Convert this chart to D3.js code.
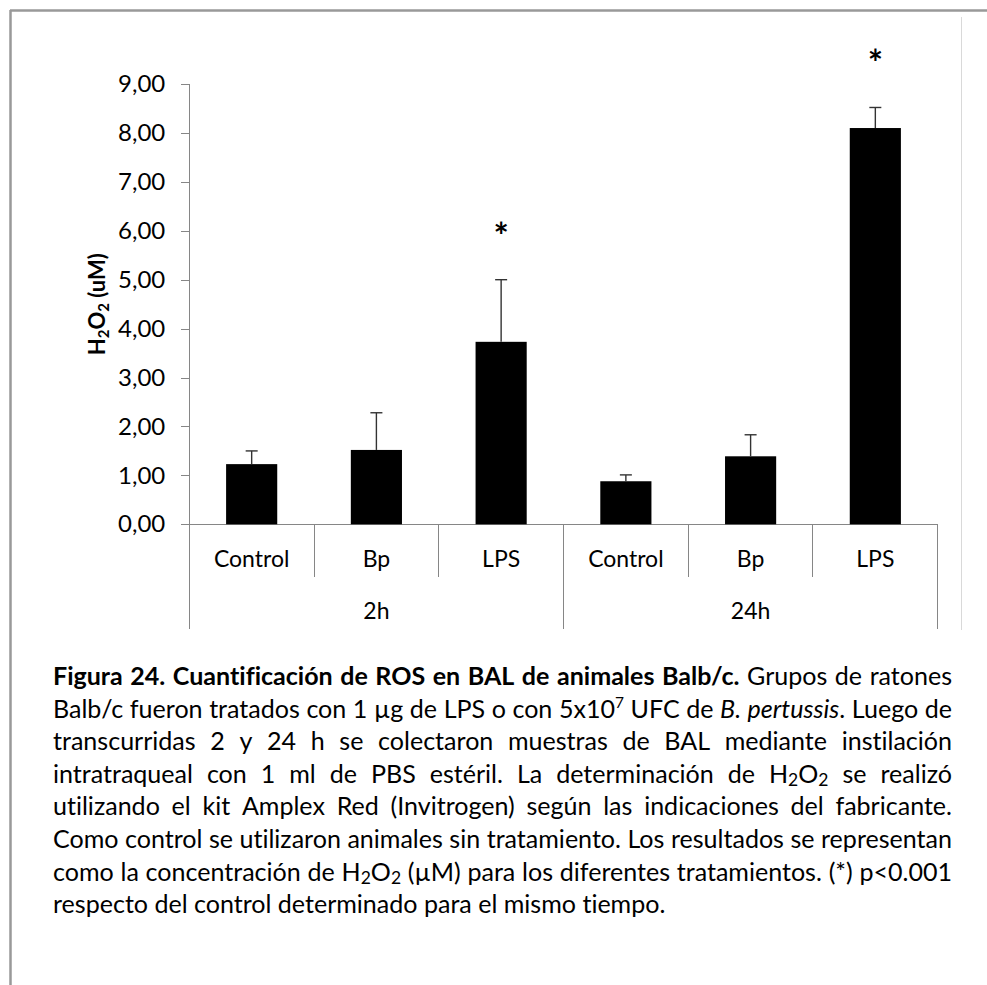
<!DOCTYPE html>
<html>
<head>
<meta charset="utf-8">
<script src="https://cdn.jsdelivr.net/npm/d3@7"></script>
<style>
  html, body { margin: 0; padding: 0; background: #fff; }
  svg { display: block; }
  text { font-variant-ligatures: none; font-feature-settings: "liga" 0, "clig" 0; }
</style>
</head>
<body>
<svg id="fig" width="987" height="985"></svg>
<script>
// ---- data ----
const groups = ["2h", "24h"];
const treatments = ["Control", "Bp", "LPS"];
const mean2h = [1.23, 1.52, 3.73];
const err2h = [0.27, 0.76, 1.27];
const mean24h = [0.88, 1.39, 8.10];
const err24h = [0.13, 0.44, 0.42];
const signif2h = [false, false, true];
const signif24h = [false, false, true];
const yTicks = [0, 1, 2, 3, 4, 5, 6, 7, 8, 9];
const yTitleRuns = [{ t: "H" }, { t: "2", sub: true }, { t: "O" }, { t: "2", sub: true }, { t: " (uM)" }];

// caption markup: **bold**, _italic_, ^superscript^, ~subscript~
const captionLines = [
  "**Figura 24. Cuantificación de ROS en BAL de animales Balb/c.** Grupos de ratones",
  "Balb/c fueron tratados con 1 µg de LPS o con 5x10^7^ UFC de _B. pertussis_. Luego de",
  "transcurridas 2 y 24 h se colectaron muestras de BAL mediante instilación",
  "intratraqueal con 1 ml de PBS estéril. La determinación de H~2~O~2~ se realizó",
  "utilizando el kit Amplex Red (Invitrogen) según las indicaciones del fabricante.",
  "Como control se utilizaron animales sin tratamiento. Los resultados se representan",
  "como la concentración de H~2~O~2~ (µM) para los diferentes tratamientos. (*) p<0.001",
  "respecto del control determinado para el mismo tiempo."
];

// ---- layout ----
const FONT = "Lato, 'Open Sans', sans-serif";
const svg = d3.select("#fig");

const plot = { left: 189.3, right: 937.7, top: 84, bottom: 524.3 };
const catFloor = 576.7, groupFloor = 629;

// page frame
svg.append("line").attr("x1", 10).attr("x2", 987).attr("y1", 10.5).attr("y2", 10.5)
  .attr("stroke", "#999").attr("stroke-width", 2.5);
svg.append("line").attr("x1", 10.5).attr("x2", 10.5).attr("y1", 10).attr("y2", 985)
  .attr("stroke", "#999").attr("stroke-width", 2.5);
// chart area edge
svg.append("line").attr("x1", 961.5).attr("x2", 961.5).attr("y1", 17).attr("y2", 630)
  .attr("stroke", "#d9d9d9").attr("stroke-width", 1);

// ---- scales ----
const rows = [];
groups.forEach((g, gi) => {
  const m = gi ? mean24h : mean2h, e = gi ? err24h : err2h, s = gi ? signif24h : signif2h;
  treatments.forEach((t, ti) => rows.push({ key: g + "|" + t, group: g, treat: t, mean: m[ti], err: e[ti], sig: s[ti] }));
});

const y = d3.scaleLinear().domain([0, 9]).range([plot.bottom, plot.top]);
const x = d3.scaleBand().domain(rows.map(d => d.key)).range([plot.left, plot.right]).padding(0);
const bw = x.bandwidth();
const barW = bw * 0.41;

// ---- y axis ----
const fmt = d3.formatLocale({ decimal: ",", thousands: ".", grouping: [3], currency: ["", ""] }).format(".2f");
const gy = svg.append("g")
  .attr("transform", `translate(${plot.left},0)`)
  .call(d3.axisLeft(y).tickValues(yTicks).tickFormat(fmt).tickSize(8).tickPadding(16));
gy.select(".domain").remove();
gy.attr("font-family", FONT).attr("font-size", 24);
gy.selectAll(".tick line").attr("stroke", "#868686").attr("shape-rendering", "crispEdges");
gy.selectAll(".tick text").attr("fill", "#000");

const axisColor = "#868686";
// vertical axis line, continuing down through the category table
svg.append("line").attr("x1", plot.left).attr("x2", plot.left)
  .attr("y1", y(9)).attr("y2", groupFloor).attr("stroke", axisColor).attr("shape-rendering", "crispEdges");
// baseline
svg.append("line").attr("x1", plot.left - 8).attr("x2", plot.right)
  .attr("y1", y(0)).attr("y2", y(0)).attr("stroke", axisColor).attr("shape-rendering", "crispEdges");

// category dividers
rows.forEach((d, i) => {
  if (i === 0) return;
  const xb = x(d.key);
  const isGroupEdge = rows[i - 1].group !== d.group;
  svg.append("line").attr("x1", xb).attr("x2", xb).attr("y1", y(0))
    .attr("y2", isGroupEdge ? groupFloor : catFloor)
    .attr("stroke", axisColor).attr("shape-rendering", "crispEdges");
});
svg.append("line").attr("x1", plot.right).attr("x2", plot.right).attr("y1", y(0)).attr("y2", groupFloor)
  .attr("stroke", axisColor).attr("shape-rendering", "crispEdges");

// category labels
svg.append("g").selectAll("text").data(rows).join("text")
  .attr("x", d => x(d.key) + bw / 2).attr("y", 567)
  .attr("text-anchor", "middle").attr("font-family", FONT).attr("font-size", 23)
  .text(d => d.treat);

// group labels
svg.append("g").selectAll("text").data(groups).join("text")
  .attr("x", g => {
    const ks = rows.filter(r => r.group === g).map(r => r.key);
    return (x(ks[0]) + x(ks[ks.length - 1]) + bw) / 2;
  })
  .attr("y", 619).attr("text-anchor", "middle").attr("font-family", FONT).attr("font-size", 23)
  .text(g => g);

// y title
const yt = svg.append("text")
  .attr("transform", `translate(105,${(y(0) + y(9)) / 2}) rotate(-90)`)
  .attr("text-anchor", "middle").attr("font-family", FONT).attr("font-size", 22).attr("font-weight", "bold");
yTitleRuns.forEach(r => {
  const ts = yt.append("tspan").text(r.t);
  if (r.sub) ts.attr("font-size", 15).attr("baseline-shift", -4);
});

// ---- bars ----
svg.append("g").selectAll("rect").data(rows).join("rect")
  .attr("x", d => x(d.key) + (bw - barW) / 2)
  .attr("width", barW)
  .attr("y", d => y(d.mean))
  .attr("height", d => y(0) - y(d.mean))
  .attr("fill", "#000");

// error bars (upper whisker only)
const eg = svg.append("g").attr("stroke", "#333").attr("stroke-width", 1.4);
rows.forEach(d => {
  const cx = x(d.key) + bw / 2;
  eg.append("line").attr("x1", cx).attr("x2", cx).attr("y1", y(d.mean)).attr("y2", y(d.mean + d.err));
  eg.append("line").attr("x1", cx - 6).attr("x2", cx + 6).attr("y1", y(d.mean + d.err)).attr("y2", y(d.mean + d.err));
});

// significance marks
svg.append("g").selectAll("text").data(rows.filter(d => d.sig)).join("text")
  .attr("x", d => x(d.key) + bw / 2)
  .attr("y", d => y(d.mean + d.err) - 47 + 16)
  .attr("text-anchor", "middle").attr("font-family", FONT).attr("font-size", 36).attr("font-weight", "bold")
  .text("*");

// ---- caption ----
function parseLine(s) {
  const words = [];
  let cur = [], run = null;
  const st = { b: false, i: false, sup: false, sub: false };
  for (let k = 0; k < s.length; k++) {
    const c = s[k];
    if (c === "*" && s[k + 1] === "*") { st.b = !st.b; k++; run = null; continue; }
    if (c === "_") { st.i = !st.i; run = null; continue; }
    if (c === "^") { st.sup = !st.sup; run = null; continue; }
    if (c === "~") { st.sub = !st.sub; run = null; continue; }
    if (c === " ") { if (cur.length) { words.push(cur); cur = []; } run = null; continue; }
    if (!run) { run = { t: "", b: st.b, i: st.i, sup: st.sup, sub: st.sub }; cur.push(run); }
    run.t += c;
  }
  if (cur.length) words.push(cur);
  return words;
}

const cap = { left: 53, right: 952, firstBaseline: 685, lineStep: 32.6 };

function drawWord(parent, runs, size) {
  const t = parent.append("text").attr("font-size", size);
  runs.forEach(r => {
    const ts = t.append("tspan").text(r.t);
    if (r.b) ts.attr("font-weight", "bold");
    if (r.i) ts.attr("font-style", "italic");
    if (r.sup) ts.attr("font-size", size * 0.62).attr("baseline-shift", size * 0.38);
    if (r.sub) ts.attr("font-size", size * 0.7).attr("baseline-shift", -size * 0.12);
  });
  return t;
}

const parsed = captionLines.map(parseLine);

// measure natural widths at a reference size, then grow the type until the
// fullest justified line fills the column with ordinary word spacing
const probe = svg.append("g").attr("font-family", FONT).attr("visibility", "hidden");
const refSize = 20;
const refSpace = probe.append("text").attr("font-size", refSize).text("a a").node().getComputedTextLength()
  - probe.append("text").attr("font-size", refSize).text("aa").node().getComputedTextLength();
let fit = Infinity;
parsed.forEach((words, li) => {
  if (li === parsed.length - 1) return;
  const w = d3.sum(words, wd => drawWord(probe, wd, refSize).node().getComputedTextLength()) + refSpace * (words.length - 1);
  fit = Math.min(fit, (cap.right - cap.left) / w);
});
probe.remove();
const capSize = refSize * fit;
const capSpace = refSpace * fit;

const capG = svg.append("g").attr("font-family", FONT).attr("fill", "#000");
parsed.forEach((words, li) => {
  const yb = cap.firstBaseline + li * cap.lineStep;
  const nodes = words.map(wd => drawWord(capG, wd, capSize).attr("y", yb));
  const widths = nodes.map(n => n.node().getComputedTextLength());
  const last = li === parsed.length - 1;
  const gap = last ? capSpace : (cap.right - cap.left - d3.sum(widths)) / (words.length - 1);
  let cx = cap.left;
  nodes.forEach((n, i) => { n.attr("x", cx); cx += widths[i] + gap; });
});
</script>
</body>
</html>
